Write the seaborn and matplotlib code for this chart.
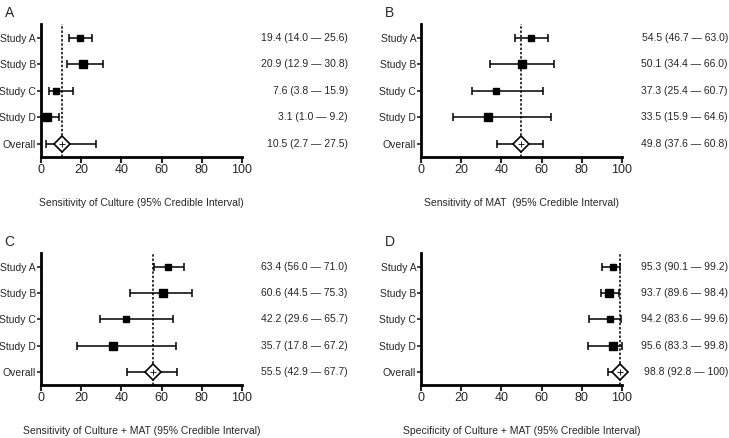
import numpy as np
import pandas as pd
import matplotlib
matplotlib.use("Agg")
import matplotlib.pyplot as plt
import seaborn as sns

studies = ["Study A", "Study B", "Study C", "Study D", "Overall"]

culture_est = [19.4, 20.9, 7.6, 3.1, 10.5]
culture_lo = [14.0, 12.9, 3.8, 1.0, 2.7]
culture_hi = [25.6, 30.8, 15.9, 9.2, 27.5]

mat_est = [54.5, 50.1, 37.3, 33.5, 49.8]
mat_lo = [46.7, 34.4, 25.4, 15.9, 37.6]
mat_hi = [63.0, 66.0, 60.7, 64.6, 60.8]

both_est = [63.4, 60.6, 42.2, 35.7, 55.5]
both_lo = [56.0, 44.5, 29.6, 17.8, 42.9]
both_hi = [71.0, 75.3, 65.7, 67.2, 67.7]

spec_est = [95.3, 93.7, 94.2, 95.6, 98.8]
spec_lo = [90.1, 89.6, 83.6, 83.3, 92.8]
spec_hi = [99.2, 98.4, 99.6, 99.8, 100]

panels = [
    ("A", "Sensitivity of Culture (95% Credible Interval)", culture_est, culture_lo, culture_hi),
    ("B", "Sensitivity of MAT  (95% Credible Interval)", mat_est, mat_lo, mat_hi),
    ("C", "Sensitivity of Culture + MAT (95% Credible Interval)", both_est, both_lo, both_hi),
    ("D", "Specificity of Culture + MAT (95% Credible Interval)", spec_est, spec_lo, spec_hi),
]

sns.set_theme(style="ticks")
plt.rcParams["font.family"] = ["Liberation Sans", "DejaVu Sans"]

fig = plt.figure(figsize=(7.29, 4.38), dpi=100)
axes_pos = [
    [0.0562, 0.6416, 0.2757, 0.3037],
    [0.5775, 0.6416, 0.2757, 0.3037],
    [0.0562, 0.1210, 0.2757, 0.3014],
    [0.5775, 0.1210, 0.2757, 0.3014],
]
msizes = [3.9, 5.2, 3.7, 5.2]


def fmt(v):
    return "%.1f" % v if v < 100 else "100"


for pos, (letter, xlabel, est, lo, hi) in zip(axes_pos, panels):
    ax = fig.add_axes(pos)
    df = pd.DataFrame({"study": studies, "est": est, "lo": lo, "hi": hi})
    df["y"] = np.arange(len(df))
    ax.axvline(est[-1], color="black", ls=(0, (1.6, 1.2)), lw=1.1, zorder=1)
    eb = ax.errorbar(df["est"], df["y"],
                     xerr=[df["est"] - df["lo"], df["hi"] - df["est"]],
                     fmt="none", ecolor="black", elinewidth=1.1, capsize=3,
                     capthick=1.1, zorder=2)
    for art in eb.lines[1] + eb.lines[2]:
        art.set_clip_on(False)
    st = df.iloc[:4]
    for i, r in st.iterrows():
        ax.plot(r["est"], r["y"], marker="s", ms=msizes[i], color="black",
                zorder=3, clip_on=False)
    ov = df.iloc[4]
    ax.plot(ov["est"], ov["y"], marker="D", ms=8.5, mfc="white", mec="black",
            mew=1.2, zorder=3, clip_on=False)
    ax.plot(ov["est"], ov["y"], marker="+", ms=4.5, color="black", mew=0.6,
            zorder=4, clip_on=False)

    ax.set_xlim(0, 100)
    ax.set_ylim(4.5, -0.53)
    ax.set_yticks(df["y"])
    ax.set_yticklabels(studies, fontsize=7.5)
    ax.set_xticks(np.arange(0, 101, 20))
    ax.tick_params(axis="x", labelsize=9, length=4, width=1.5, pad=1)
    ax.tick_params(axis="y", length=3, width=1.2, pad=0.5)
    for s in ["left", "bottom"]:
        ax.spines[s].set_linewidth(2)
        ax.spines[s].set_color("black")
    sns.despine(ax=ax)
    ax.set_xlabel(xlabel, fontsize=7.5, labelpad=16)
    ax.grid(False)

    for _, r in df.iterrows():
        txt = "%s (%s \u2014 %s)" % (fmt(r["est"]), fmt(r["lo"]), fmt(r["hi"]))
        ax.text(1.527, r["y"], txt, transform=ax.get_yaxis_transform(),
                ha="right", va="center", fontsize=7.5)

    fig.text(pos[0] - 0.05, pos[1] + pos[3] + 0.01, letter, fontsize=10,
             va="bottom", ha="left")

fig.savefig("out.png", dpi=100)
